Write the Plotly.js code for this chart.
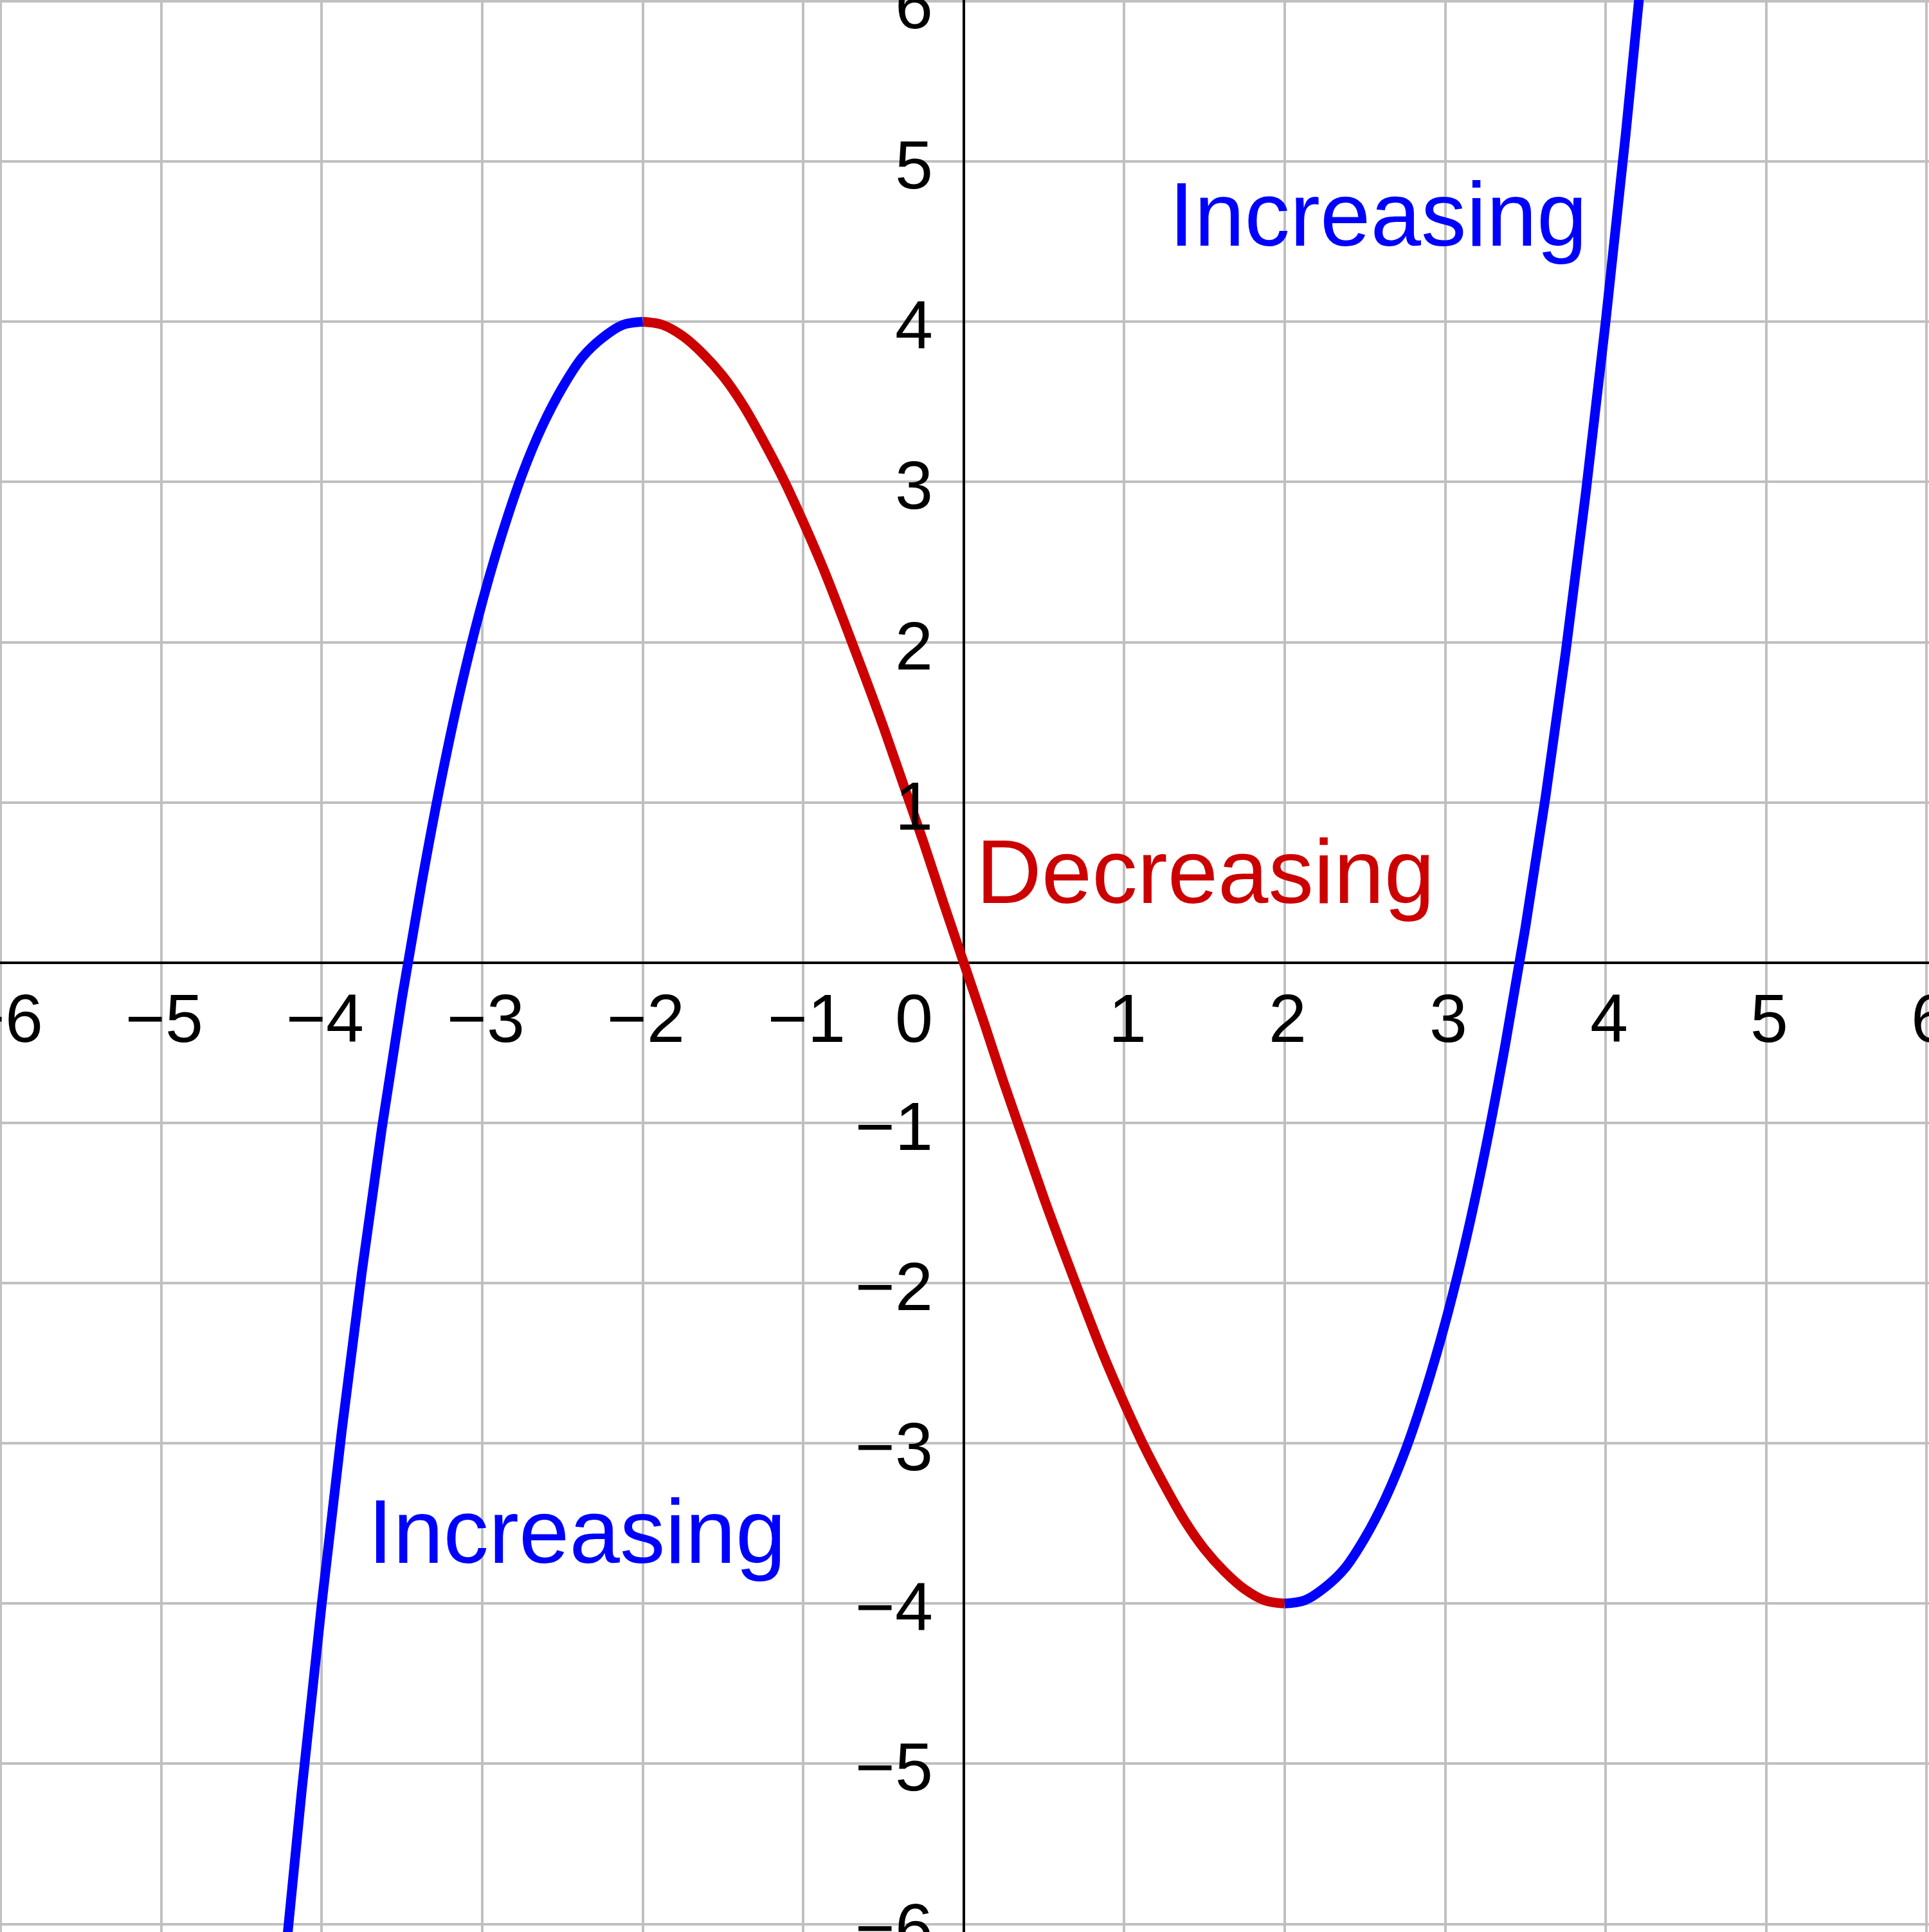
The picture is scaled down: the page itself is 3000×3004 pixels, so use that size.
<!DOCTYPE html>
<html>
<head>
<meta charset="utf-8">
<script src="https://cdn.plot.ly/plotly-3.0.1.min.js"></script>
<style>
  html, body { margin: 0; padding: 0; background: #fff; }
  #graph { width: 3000px; height: 3004px; }
</style>
</head>
<body>
<div id="graph"></div>
<script>
// curve values, split where the slope changes sign
var leftX = [-4.25, -4.125, -4.0, -3.875, -3.75, -3.625, -3.5, -3.375, -3.25, -3.125,
             -3.0, -2.875, -2.75, -2.625, -2.5, -2.375, -2.25, -2.125, -2.0];
var leftY = [-6.44, -5.17, -4.0, -2.92, -1.93, -1.03, -0.22, 0.51, 1.17, 1.75,
             2.25, 2.68, 3.05, 3.35, 3.59, 3.78, 3.90, 3.98, 4.0];

var midX = [-2.0, -1.875, -1.75, -1.625, -1.5, -1.375, -1.25, -1.125, -1.0, -0.875,
            -0.75, -0.625, -0.5, -0.375, -0.25, -0.125, 0, 0.125, 0.25, 0.375,
            0.5, 0.625, 0.75, 0.875, 1.0, 1.125, 1.25, 1.375, 1.5, 1.625,
            1.75, 1.875, 2.0];
var midY = [4.0, 3.98, 3.91, 3.80, 3.66, 3.48, 3.26, 3.02, 2.75, 2.46,
            2.14, 1.81, 1.47, 1.11, 0.75, 0.37, 0, -0.37, -0.75, -1.11,
            -1.47, -1.81, -2.14, -2.46, -2.75, -3.02, -3.26, -3.48, -3.66, -3.80,
            -3.91, -3.98, -4.0];

var rightX = [2.0, 2.125, 2.25, 2.375, 2.5, 2.625, 2.75, 2.875, 3.0, 3.125,
              3.25, 3.375, 3.5, 3.625, 3.75, 3.875, 4.0, 4.125, 4.25];
var rightY = [-4.0, -3.98, -3.90, -3.78, -3.59, -3.35, -3.05, -2.68, -2.25, -1.75,
              -1.17, -0.51, 0.22, 1.03, 1.93, 2.92, 4.0, 5.17, 6.44];

var tickVals = [-6, -5, -4, -3, -2, -1, 1, 2, 3, 4, 5, 6];
var tickText = ['\u22126', '\u22125', '\u22124', '\u22123', '\u22122', '\u22121', '1', '2', '3', '4', '5', '6'];

var labelText = ['Increasing', 'Decreasing', 'Increasing'];
var labelX = [-3.72, 0.07, 1.27];
var labelY = [-3.55, 0.57, 4.67];
var labelColor = ['#0000ff', '#cc0000', '#0000ff'];

var blue = '#0000ff';
var red = '#cc0000';
var font = 'Liberation Sans, Arial, sans-serif';

function curve(xs, ys, color) {
  return {
    x: xs, y: ys, type: 'scatter', mode: 'lines',
    line: { color: color, width: 15, shape: 'spline', smoothing: 1, simplify: false }
  };
}

var data = [
  curve(midX, midY, red),
  curve(leftX, leftY, blue),
  curve(rightX, rightY, blue)
];

var annotations = [];

// x tick labels sit just under the x axis
tickVals.forEach(function (v, i) {
  annotations.push({
    x: v, y: 0, xref: 'x', yref: 'y',
    text: tickText[i], showarrow: false,
    xanchor: 'center', yanchor: 'middle',
    xshift: 5, yshift: -86,
    font: { family: font, size: 106, color: '#000' }
  });
});

// y tick labels sit just left of the y axis
tickVals.forEach(function (v, i) {
  annotations.push({
    x: 0, y: v, xref: 'x', yref: 'y',
    text: tickText[i], showarrow: false,
    xanchor: 'right', yanchor: 'middle',
    xshift: -46, yshift: -5,
    font: { family: font, size: 106, color: '#000' }
  });
});

// origin
annotations.push({
  x: 0, y: 0, xref: 'x', yref: 'y',
  text: '0', showarrow: false,
  xanchor: 'right', yanchor: 'middle',
  xshift: -46, yshift: -86,
  font: { family: font, size: 106, color: '#000' }
});

labelText.forEach(function (t, i) {
  annotations.push({
    x: labelX[i], y: labelY[i], xref: 'x', yref: 'y',
    text: t, showarrow: false,
    xanchor: 'left', yanchor: 'middle',
    font: { family: font, size: 141, color: labelColor[i] }
  });
});

var axisStyle = {
  dtick: 1,
  tick0: 0,
  showgrid: true,
  gridcolor: '#c0c0c0',
  gridwidth: 4,
  zeroline: true,
  zerolinecolor: '#000000',
  zerolinewidth: 4,
  showticklabels: false,
  ticks: '',
  showline: false,
  fixedrange: true
};

var layout = {
  width: 3000,
  height: 3004,
  margin: { l: 0, r: 0, t: 0, b: 0, pad: 0 },
  paper_bgcolor: '#ffffff',
  plot_bgcolor: '#ffffff',
  showlegend: false,
  xaxis: Object.assign({}, axisStyle, { range: [-6.005, 6.015] }),
  yaxis: Object.assign({}, axisStyle, { range: [-6.05, 6.008] }),
  annotations: annotations
};

Plotly.newPlot('graph', data, layout, { staticPlot: true, displayModeBar: false });
</script>
</body>
</html>
